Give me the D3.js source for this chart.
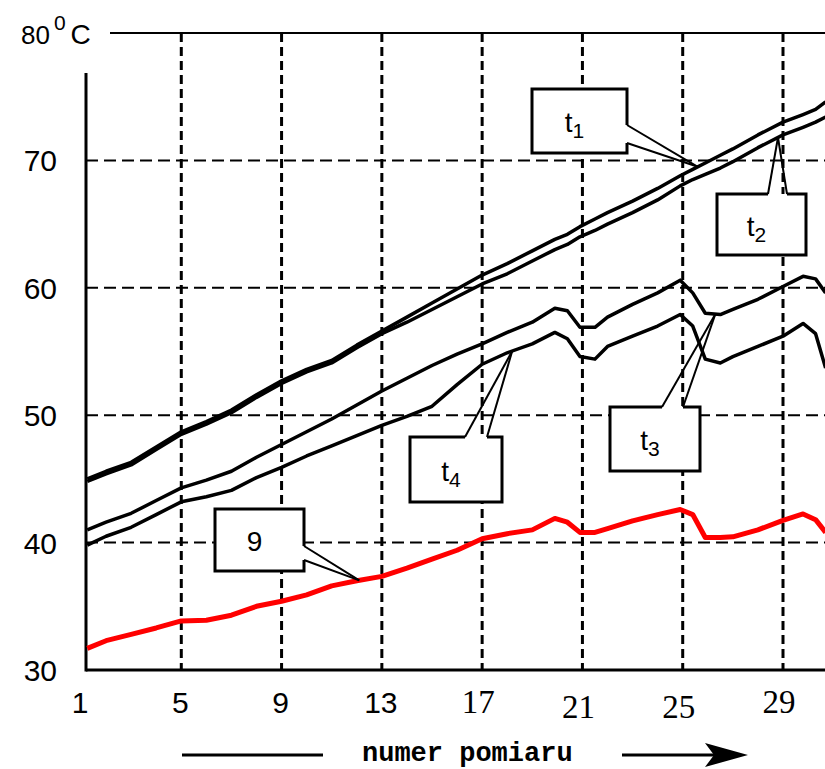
<!DOCTYPE html>
<html>
<head>
<meta charset="utf-8">
<script src="https://cdn.jsdelivr.net/npm/d3@7"></script>
<style>
  body { margin: 0; background: #fff; }
  svg { display: block; }
</style>
</head>
<body>
<div id="chart"></div>
<script>
const widthPage = 825;
const heightPage = 769;

// measurement numbers (x) shared by all series
const pomiar = [1.25, 2, 3, 4, 5, 6, 7, 8, 9, 10, 11, 12, 13, 14, 15, 16, 17, 18, 19,
  19.9, 20.4, 20.9, 21.5, 22, 23, 24, 24.9, 25.4, 25.9, 26.5, 27, 28, 29, 29.8, 30.3, 30.7];

const t1 = [45.0, 45.6, 46.3, 47.5, 48.7, 49.5, 50.4, 51.6, 52.7, 53.6, 54.3, 55.5, 56.6, 57.7, 58.8, 59.9, 61.0, 61.9, 62.9,
  63.8, 64.2, 64.8, 65.4, 65.9, 66.8, 67.8, 68.8, 69.3, 69.8, 70.4, 70.9, 72.0, 73.0, 73.6, 74.0, 74.6];
const t2 = [44.8, 45.4, 46.1, 47.3, 48.5, 49.3, 50.2, 51.4, 52.5, 53.4, 54.1, 55.3, 56.4, 57.3, 58.3, 59.3, 60.3, 61.1, 62.1,
  63.0, 63.4, 64.0, 64.5, 65.0, 65.9, 66.9, 68.0, 68.5, 68.9, 69.4, 69.9, 71.0, 72.0, 72.6, 73.0, 73.4];
const t3 = [41.0, 41.6, 42.3, 43.3, 44.3, 44.9, 45.6, 46.7, 47.7, 48.7, 49.7, 50.8, 51.9, 52.9, 53.9, 54.8, 55.6, 56.5, 57.3,
  58.4, 58.2, 56.9, 56.9, 57.7, 58.7, 59.6, 60.6, 59.6, 58.0, 57.9, 58.3, 59.1, 60.1, 60.9, 60.7, 59.6];
const t4 = [39.8, 40.5, 41.2, 42.2, 43.2, 43.6, 44.1, 45.1, 45.9, 46.8, 47.6, 48.4, 49.2, 49.9, 50.7, 52.4, 54.0, 54.9, 55.6,
  56.5, 56.0, 54.6, 54.4, 55.4, 56.2, 57.0, 57.9, 57.0, 54.4, 54.1, 54.6, 55.4, 56.2, 57.2, 56.4, 53.7];
const theta = [31.7, 32.3, 32.8, 33.3, 33.85, 33.9, 34.3, 35.0, 35.4, 35.9, 36.6, 37.0, 37.35, 38.0, 38.7, 39.4, 40.3, 40.7, 41.0,
  41.9, 41.6, 40.8, 40.8, 41.1, 41.7, 42.2, 42.6, 42.2, 40.4, 40.4, 40.45, 41.0, 41.75, 42.25, 41.8, 40.8];

const xTicks = [1, 5, 9, 13, 17, 21, 25, 29];
const yTicks = [30, 40, 50, 60, 70];
const yGrid = [40, 50, 60, 70];

// callout labels: which series they point to and where (pomiar)
const calloutLabels = ['t', 't', 't', 't', '9'];
const calloutSubs = ['1', '2', '3', '4', ''];
const calloutSeries = [t1, t2, t3, t4, theta];
const calloutAt = [25.6, 28.8, 26.3, 18.2, 12.1];

var svg = d3.select('#chart')
  .append('svg')
  .attr('width', widthPage)
  .attr('height', heightPage);

const x = d3.scaleLinear().domain([1, 29]).range([81, 783]);
const y = d3.scaleLinear().domain([30, 80]).range([670, 33]);

const axisX = 86;
const rightEdge = 825;

// vertical grid (dashed)
svg.selectAll('.vgrid')
  .data(xTicks.slice(1))
  .enter()
  .append('line')
  .attr('x1', d => x(d))
  .attr('x2', d => x(d))
  .attr('y1', y(80))
  .attr('y2', y(30))
  .attr('stroke', '#000')
  .attr('stroke-width', 3)
  .attr('stroke-dasharray', '9,5');

// horizontal grid (dashed)
svg.selectAll('.hgrid')
  .data(yGrid)
  .enter()
  .append('line')
  .attr('x1', axisX)
  .attr('x2', rightEdge)
  .attr('y1', d => y(d))
  .attr('y2', d => y(d))
  .attr('stroke', '#000')
  .attr('stroke-width', 2)
  .attr('stroke-dasharray', '12,6');

// top solid line at 80
svg.append('line')
  .attr('x1', 110).attr('x2', rightEdge)
  .attr('y1', y(80)).attr('y2', y(80))
  .attr('stroke', '#000').attr('stroke-width', 2);

// axes
svg.append('line')
  .attr('x1', axisX).attr('x2', axisX)
  .attr('y1', 73).attr('y2', y(30) + 1.5)
  .attr('stroke', '#000').attr('stroke-width', 3);
svg.append('line')
  .attr('x1', axisX).attr('x2', rightEdge)
  .attr('y1', y(30)).attr('y2', y(30))
  .attr('stroke', '#000').attr('stroke-width', 3);

// y labels
svg.selectAll('.ylab')
  .data(yTicks)
  .enter()
  .append('text')
  .attr('x', 57)
  .attr('y', d => y(d) + 11)
  .attr('text-anchor', 'end')
  .style('font-family', 'Liberation Sans, Arial, sans-serif')
  .style('font-size', '30px')
  .text(d => d);

// 80°C
const topLabel = svg.append('text')
  .attr('x', 21)
  .attr('y', 44)
  .style('font-family', 'Liberation Sans, Arial, sans-serif')
  .style('font-size', '26px');
topLabel.append('tspan').text('80');
topLabel.append('tspan').attr('dy', -14).attr('dx', 4).style('font-size', '21px').text('0');
topLabel.append('tspan').attr('dy', 14).attr('dx', 5).style('font-size', '28px').text('C');

// x labels: first four sans, rest serif
svg.selectAll('.xlab')
  .data(xTicks)
  .enter()
  .append('text')
  .attr('x', d => x(d) - (d >= 17 ? 4 : 1))
  .attr('y', d => (d === 21 || d === 25) ? 718 : 713)
  .attr('text-anchor', 'middle')
  .style('font-family', d => d >= 17 ? 'Liberation Serif, Times New Roman, serif' : 'Liberation Sans, Arial, sans-serif')
  .style('font-size', d => d >= 17 ? '33px' : '30px')
  .text(d => d);

// series
const line = d3.line()
  .x((d, i) => x(pomiar[i]))
  .y(d => y(d));

[t4, t3, t2, t1].forEach(s => {
  svg.append('path')
    .attr('d', line(s))
    .attr('fill', 'none')
    .attr('stroke', '#000')
    .attr('stroke-width', 3.5)
    .attr('stroke-linejoin', 'round');
});

svg.append('path')
  .attr('d', line(theta))
  .attr('fill', 'none')
  .attr('stroke', '#ff0000')
  .attr('stroke-width', 5)
  .attr('stroke-linejoin', 'round');

// callout boxes: [x0, y0, x1, y1], side of the wedge and gap range
const boxes = [
  { r: [532, 89, 627, 153], side: 'right', gap: [125, 143] },
  { r: [717, 194, 806, 255], side: 'top', gap: [768, 787] },
  { r: [610, 407, 700, 471], side: 'top', gap: [662, 683] },
  { r: [410, 437, 502, 502], side: 'top', gap: [465, 487] },
  { r: [215, 509, 304, 571], side: 'right', gap: [546, 560] }
];

const interp = (s, p) => {
  const i = d3.bisectLeft(pomiar, p);
  const t = (p - pomiar[i - 1]) / (pomiar[i] - pomiar[i - 1]);
  return s[i - 1] + t * (s[i] - s[i - 1]);
};

boxes.forEach((b, k) => {
  const [x0, y0, x1, y1] = b.r;
  const tip = [x(calloutAt[k]), y(interp(calloutSeries[k], calloutAt[k]))];
  let border, ends;
  if (b.side === 'right') {
    border = [[x1, b.gap[0]], [x1, y0], [x0, y0], [x0, y1], [x1, y1], [x1, b.gap[1]]];
    ends = [[x1, b.gap[0]], [x1, b.gap[1]]];
  } else {
    border = [[b.gap[0], y0], [x0, y0], [x0, y1], [x1, y1], [x1, y0], [b.gap[1], y0]];
    ends = [[b.gap[0], y0], [b.gap[1], y0]];
  }
  svg.append('rect')
    .attr('x', x0).attr('y', y0)
    .attr('width', x1 - x0).attr('height', y1 - y0)
    .attr('fill', '#fff');
  svg.append('path')
    .attr('d', d3.line()(border))
    .attr('fill', 'none')
    .attr('stroke', '#000')
    .attr('stroke-width', 3);
  ends.forEach(e => {
    svg.append('line')
      .attr('x1', e[0]).attr('y1', e[1])
      .attr('x2', tip[0]).attr('y2', tip[1])
      .attr('stroke', '#000')
      .attr('stroke-width', 2);
  });
  const lab = svg.append('text')
    .attr('x', (x0 + x1) / 2 - 5)
    .attr('y', (y0 + y1) / 2 + 11)
    .attr('text-anchor', 'middle')
    .style('font-family', 'Liberation Sans, Arial, sans-serif')
    .style('font-size', '28px')
    .text(calloutLabels[k]);
  if (calloutSubs[k]) {
    lab.append('tspan')
      .attr('dy', 6)
      .style('font-size', '21px')
      .text(calloutSubs[k]);
  }
});

// axis title with arrow
svg.append('line')
  .attr('x1', 182).attr('x2', 323)
  .attr('y1', 755).attr('y2', 755)
  .attr('stroke', '#000').attr('stroke-width', 3);
svg.append('text')
  .attr('x', 362)
  .attr('y', 761)
  .style('font-family', 'Liberation Mono, Courier New, monospace')
  .style('font-weight', 'bold')
  .style('font-size', '27px')
  .text('numer pomiaru');
svg.append('line')
  .attr('x1', 622).attr('x2', 720)
  .attr('y1', 755).attr('y2', 755)
  .attr('stroke', '#000').attr('stroke-width', 3);
svg.append('path')
  .attr('d', 'M748,755 L705,743 L714,755 L705,767 Z')
  .attr('fill', '#000');
</script>
</body>
</html>
